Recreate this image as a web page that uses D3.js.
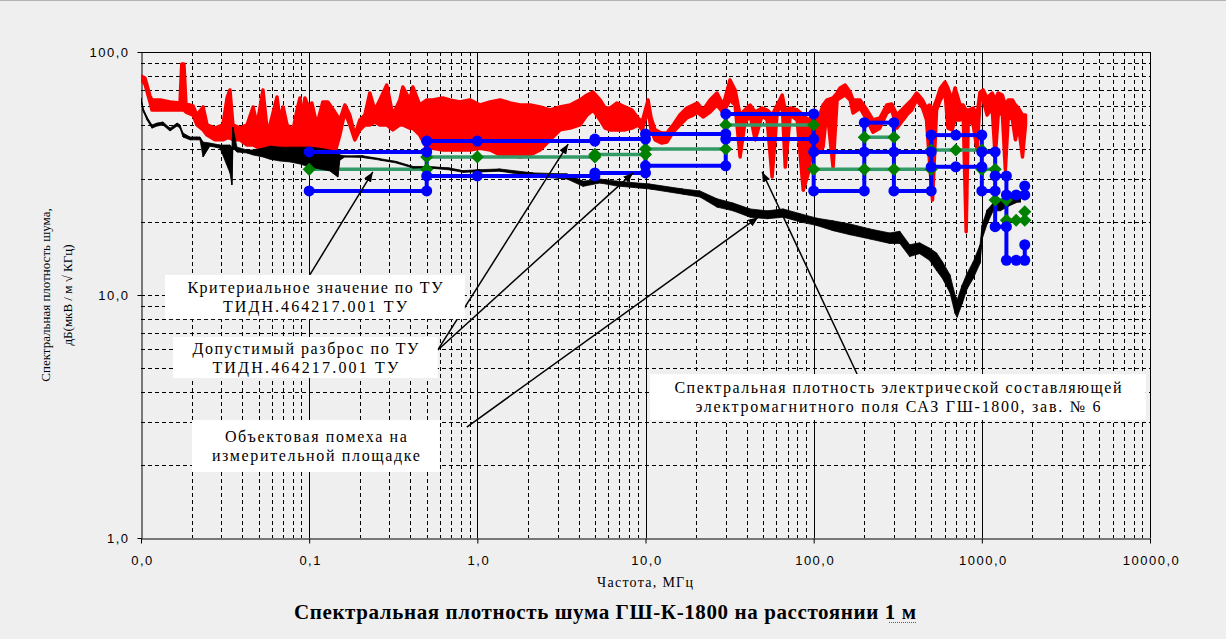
<!DOCTYPE html>
<html><head><meta charset="utf-8">
<script src="https://cdn.jsdelivr.net/npm/d3@7"></script>
<style>
html,body{margin:0;padding:0;background:#efefef;}
svg{display:block;}
</style></head><body>
<svg id="chart" width="1226" height="639"></svg>
<script>
// ---------- DATA ----------
const xTickValues = [0.01, 0.1, 1, 10, 100, 1000, 10000];
const xTickLabels = ["0,0", "0,1", "1,0", "10,0", "100,0", "1000,0", "10000,0"];
const yTickValues = [1, 10, 100];
const yTickLabels = ["1,0", "10,0", "100,0"];

// Red: spectral density of the SAZ GSh-1800 (envelope of the dense trace)
const redFreq = [0.0100,0.01056,0.01131,0.01162,0.01297,0.01487,0.01706,0.01747,0.0180,0.0185,
 0.0204,0.0215,0.0234,0.0247,0.0275,0.0307,0.0325,0.0338,0.0352,0.0388,
 0.0427,0.0464,0.0490,0.0531,0.0561,0.0585,0.0644,0.0670,0.0700,0.0738,
 0.0802,0.0847,0.0882,0.0921,0.0943,0.1009,0.1037,0.1110,0.1206,0.1292,
 0.1421,0.1522,0.1630,0.1745,0.1869,0.2001,0.2143,0.2295,0.2458,0.2631,
 0.2893,0.3144,0.3460,0.3607,0.3967,0.4135,0.4549,0.5007,0.5437,0.6235,
 0.686,0.787,0.902,1.039,1.191,1.366,1.566,1.796,2.06,2.36,
 2.71,3.10,3.56,4.08,4.49,4.88,5.37,5.75,6.16,6.77,
 7.55,8.31,9.02,9.55,10.36,10.8,11.4,12.5,13.4,14.6,
 16.0,17.6,19.2,20.3,22.0,24.2,26.6,29.0,31.8,34.1,
 36.5,39.0,41.9,44.9,49.4,52.9,56.6,60.7,65.0,67.8,
 72.6,79.8,86.7,93.0,99.6,106.2,113.7,120.1,130.4,137.8,
 143.6,153.8,164.7,171.5,188.8,207.6,225.2,247.5,272.1,291.4,
 312.1,357.4,383,409.3,444.2,469,488,509,538,567,
 604,629,665,693,743,775,807,830,889,937,
 976,1018,1075,1152,1201,1251,1323,1380,1438,1520,
 1584,1651,1745,1818];
const redHigh = [79.7,78.2,65.9,63.5,63.5,62.3,61.7,89.2,89.2,61.1,
 60.0,55.0,59.4,50.1,48.6,50.1,64.7,69.8,50.1,48.6,
 50.1,59.4,50.1,69.8,48.6,50.1,65.3,52.5,59.4,50.1,
 47.8,57.7,64.7,52.5,64.7,57.7,61.7,50.1,62.3,62.3,
 56.6,52.5,60.5,55.0,45.5,52.5,55.0,67.8,57.7,63.5,
 73.1,55.0,63.5,71.8,63.5,71.8,60.5,63.5,63.5,64.7,
 63.5,62.3,63.5,60.5,62.3,63.5,61.7,60.5,60.5,59.4,
 57.7,59.4,60.5,63.5,66.5,68.4,63.5,58.8,58.8,61.7,
 59.4,57.7,53.5,51.5,63.5,53.5,47.8,46.4,46.4,50.1,
 55.0,58.8,60.5,61.7,57.7,63.5,67.8,60.5,76.7,69.8,
 55.0,57.7,60.5,56.6,58.8,57.7,55.0,60.5,66.5,57.7,
 58.8,57.7,55.0,52.5,55.0,52.5,60.5,63.5,64.7,67.8,
 71.1,73.1,68.4,63.5,63.5,57.7,52.5,53.5,60.5,61.1,
 55.0,60.5,63.5,67.8,63.5,58.8,60.5,57.7,63.5,71.1,
 75.2,71.1,63.5,71.1,60.5,60.5,57.7,57.7,58.8,55.0,
 68.4,69.8,64.7,67.8,63.5,67.8,66.5,60.5,63.5,63.5,
 60.5,58.8,55.0,55.0];
const redLow = [76.7,73.8,62.3,57.7,57.7,57.7,57.7,57.7,57.7,56.6,
 55.0,50.1,47.8,45.5,43.5,43.5,44.3,44.3,43.5,43.5,
 41.4,41.4,40.6,40.2,39.5,39.5,39.5,38.8,38.8,37.7,
 37.7,37.7,37.7,37.7,37.7,37.7,37.7,37.0,37.7,37.7,
 38.4,45.5,56.6,50.1,43.5,47.8,50.1,50.1,51.5,50.1,
 50.1,47.8,50.1,50.1,48.6,48.6,45.5,40.2,40.2,39.5,
 39.5,39.5,39.5,40.2,39.5,37.7,37.7,37.0,37.7,39.5,
 43.5,47.8,48.6,50.1,55.0,57.7,52.5,48.6,47.8,47.8,
 47.8,48.6,50.1,47.8,57.7,47.8,43.5,42.2,42.6,46.8,
 50.1,53.5,55.0,56.6,54.0,56.6,60.5,56.1,63.5,60.5,
 37.0,51.0,55.0,43.5,55.0,52.5,30.6,56.6,60.5,33.6,
 55.0,52.5,27.0,31.8,43.5,38.4,40.6,57.7,33.6,63.5,
 64.7,66.5,63.5,56.1,58.8,52.5,46.8,48.6,56.1,57.7,
 48.6,55.0,57.7,63.5,58.8,52.5,35.9,24.6,57.7,63.5,
 68.4,48.6,47.8,52.5,52.5,55.0,18.2,52.5,50.1,39.5,
 63.5,63.5,55.0,58.8,37.0,55.0,56.6,32.7,55.0,52.5,
 43.5,50.1,37.0,50.1];

// Black: interference on the measurement site
const blackFreq = [0.0100,0.01028,0.01086,0.01162,0.01245,0.01352,0.01487,0.0164,0.01706,0.01777,
 0.01956,0.0215,0.02243,0.0234,0.0257,0.0295,0.0338,0.0347,0.0352,0.0372,
 0.0427,0.0464,0.0531,0.0585,0.0670,0.0769,0.0882,0.1009,0.1157,0.1327,
 0.1480,0.1522,0.1630,0.2085,0.2631,0.3319,0.4135,0.5216,0.686,0.820,
 1.039,1.366,2.146,3.42,4.25,5.37,6.77,10.65,16.7,21.1,
 26.6,33.2,41.9,52.9,65.9,83.2,104.8,130.4,164.7,216.2,
 283.5,325.1,372.3,426.5,488,538,583,647,693,713,
 764,818,889,976,1004,1075,1168,1287,1479,1628,1697];
const blackHigh = [64.7,58.8,54.0,50.1,51.0,51.5,48.6,51.0,50.1,46.4,
 44.7,44.7,44.7,42.6,42.2,41.4,41.4,40.6,49.1,40.6,
 39.5,39.5,40.2,41.0,40.6,40.6,40.6,40.6,40.2,39.5,
 39.0,37.7,37.4,37.4,36.4,35.4,33.8,33.8,33.3,32.5,
 32.8,33.0,31.8,31.5,29.4,30.0,29.4,28.6,27.3,26.8,
 24.9,23.9,22.6,22.2,22.6,21.6,20.7,20.2,19.6,18.7,
 18.0,18.3,16.1,16.4,15.6,14.9,13.7,12.1,10.0,9.54,
 11.0,12.3,13.7,16.1,19.4,22.4,23.9,24.6,25.3,25.8,25.3];
const blackLow = [63.5,57.2,52.5,48.6,49.6,50.1,47.3,49.6,48.6,44.7,
 43.5,43.5,43.5,37.0,41.0,40.2,31.8,28.4,40.2,38.8,
 38.4,37.7,37.0,36.2,35.6,35.3,34.6,33.6,33.0,32.4,
 30.6,35.9,37.0,36.8,35.9,34.9,33.3,33.3,32.7,32.0,
 32.1,32.3,30.8,30.0,28.0,28.9,28.1,27.3,26.0,25.3,
 23.0,22.2,20.9,20.6,20.9,20.0,19.3,18.4,17.7,17.0,
 16.3,16.3,14.4,14.8,13.9,12.6,11.7,10.2,8.4,8.1,
 9.2,10.6,11.7,13.5,17.0,19.6,22.2,22.2,23.4,24.1,24.1];

// Tolerance limits per TU (blue) : [fStart, fEnd, level]
const toleranceSegments = [
 [0.1,0.5,38.8],[0.5,1,43.0],[1,5,43.0],[5,10,43.8],[10,30,46.0],[30,100,55.6],
 [100,200,38.8],[200,300,38.8],[300,500,38.8],[200,300,51.2],[500,700,45.5],[700,1000,45.5],
 [1000,1200,38.8],[1200,1400,30.9],[1400,1600,25.8],[1600,1800,25.8],
 [0.1,0.5,26.8],[0.5,1,30.9],[1,5,30.9],[5,10,31.8],[10,30,34.0],[30,100,43.8],
 [100,200,26.8],[300,500,26.8],[500,700,33.7],[700,1000,33.7],[1000,1200,26.8],
 [1200,1400,19.1],[1400,1600,13.9],[1600,1800,13.9]
];
// vertical connectors of the tolerance lines : [freq, levelTop, levelBottom]
const toleranceConnectors = [
 [0.5,43.0,26.8],[10,46.0,31.8],[30,55.6,34.0],[100,55.6,26.8],[200,51.2,26.8],[300,51.2,26.8],
 [500,45.5,26.8],[1000,45.5,26.8],[1200,38.8,19.1],[1400,30.9,13.9],[1800,28.1,25.8],[1800,16.1,13.9]
];
// Criterion value per TU (green) : [fStart, fEnd, level]
const criterionSegments = [
 [0.1,0.5,32.9],[0.5,1,37.0],[1,5,37.0],[5,10,37.9],[10,30,39.9],[30,100,50.1],
 [100,200,32.9],[200,300,32.9],[300,500,32.9],[200,300,44.6],[500,700,39.5],[700,1000,39.5],
 [1000,1200,32.9],[1200,1400,24.6],[1400,1600,20.3],[1600,1800,20.3]
];
const criterionConnectors = [[1800,22.0,20.3]];

// Annotations (anchored in data units: frequency, level)
const annotationTexts = [
 ["Критериальное значение по ТУ", "ТИДН.464217.001 ТУ"],
 ["Допустимый разброс по ТУ", "ТИДН.464217.001 ТУ"],
 ["Объектовая помеха на", "измерительной площадке"],
 ["Спектральная плотность электрической составляющей", "электромагнитного поля САЗ ГШ-1800, зав. № 6"]
];
const annotationBoxes = [ // [fLeft, fRight, levelTop, levelBottom]
 [0.0139, 0.843, 12.1, 7.96],
 [0.0155, 0.582, 6.72, 4.55],
 [0.0201, 0.598, 3.06, 1.87],
 [10.65, 9440, 4.73, 3.06]
];
const annotationArrows = [ // [fFrom, levelFrom, fTo, levelTo]
 [0.1009, 12.1, 0.239, 32.1],
 [0.582, 5.94, 3.47, 41.8],
 [0.582, 5.94, 8.43, 31.8],
 [0.866, 2.86, 46.8, 20.9],
 [181.2, 4.73, 49.4, 32.1]
];
const chartTitle = "Спектральная плотность шума ГШ-К-1800 на расстоянии 1 м";
const xTitle = "Частота, МГц";
const yTitleLines = ["Спектральная плотность шума,", "дБ(мкВ / м √ КГц)"];

// ---------- LAYOUT / STYLE ----------
const W = 1226, H = 639;
const L = 141, R = 1150, T = 52, B = 538;
const serif = "'Liberation Serif','Times New Roman',serif";
const sans = "'Liberation Sans',Arial,sans-serif";
const textWidths = [[255,184],[226,186],[182,208],[447,405]];

const x = d3.scaleLog().domain([0.01, 10000]).range([L, R]);
const y = d3.scaleLog().domain([1, 100]).range([B, T]);
const svg = d3.select("#chart");

svg.append("rect").attr("width", W).attr("height", H).attr("fill", "#efefef");
svg.append("line").attr("x1", 0).attr("x2", W).attr("y1", 0.5).attr("y2", 0.5).attr("stroke", "#b4b4b4");

const defs = svg.append("defs");
defs.append("clipPath").attr("id", "plotclip").append("rect")
  .attr("x", L).attr("y", T).attr("width", R - L).attr("height", B - T);
defs.append("marker").attr("id", "arrowhead").attr("viewBox", "0 0 10 8")
  .attr("refX", 10).attr("refY", 4).attr("markerWidth", 10).attr("markerHeight", 8)
  .attr("markerUnits", "userSpaceOnUse").attr("orient", "auto")
  .append("path").attr("d", "M0,0 L10,4 L0,8 Z").attr("fill", "#000");

// ---------- GRID ----------
const px = v => Math.round(x(v)) + 0.5;
const py = v => Math.round(y(v)) + 0.5;
const decades = [0.01, 0.1, 1, 10, 100, 1000];
const xMinor = decades.flatMap(d => d3.range(2, 10).map(k => d * k));
const yMinor = [1, 10].flatMap(d => d3.range(2, 10).map(k => d * k)).concat([10]);
const grid = svg.append("g");
grid.selectAll(".vminor").data(xMinor).join("line")
  .attr("x1", px).attr("x2", px).attr("y1", T).attr("y2", B)
  .attr("stroke", "#000").attr("stroke-width", 1).attr("stroke-dasharray", "4,3");
grid.selectAll(".hminor").data(yMinor).join("line")
  .attr("y1", py).attr("y2", py).attr("x1", L).attr("x2", R)
  .attr("stroke", "#000").attr("stroke-width", 1).attr("stroke-dasharray", "4,3");
grid.selectAll(".vmajor").data(xTickValues.slice(1)).join("line")
  .attr("x1", px).attr("x2", px).attr("y1", T).attr("y2", B)
  .attr("stroke", "#000").attr("stroke-width", 1);
grid.append("line").attr("x1", L).attr("x2", R).attr("y1", py(100)).attr("y2", py(100))
  .attr("stroke", "#000").attr("stroke-width", 1);

// ---------- AXES ----------
const xAxis = svg.append("g").attr("transform", `translate(0,${py(1)})`)
  .call(d3.axisBottom(x).tickValues(xTickValues).tickFormat((d, i) => xTickLabels[i])
    .tickSize(5).tickPadding(12).tickSizeOuter(0));
const yAxis = svg.append("g").attr("transform", `translate(${px(0.01)},0)`)
  .call(d3.axisLeft(y).tickValues(yTickValues).tickFormat((d, i) => yTickLabels[i])
    .tickSize(4).tickPadding(8).tickSizeOuter(0));
[xAxis, yAxis].forEach(a => {
  a.select(".domain").attr("stroke", "#000");
  a.selectAll(".tick line").attr("stroke", "#000");
  a.selectAll(".tick text").attr("font-family", sans).attr("font-size", 13)
    .attr("fill", "#000").attr("letter-spacing", "1.5px");
});
xAxis.selectAll(".tick text").attr("dx", "1px");

// ---------- SERIES ----------
const plot = svg.append("g").attr("clip-path", "url(#plotclip)");
const band = d3.area().x(d => x(d.f)).y0(d => y(d.lo)).y1(d => y(d.hi));
const redData = redFreq.map((f, i) => ({ f, hi: redHigh[i], lo: redLow[i] }));
const blackData = blackFreq.map((f, i) => ({ f, hi: blackHigh[i], lo: blackLow[i] }));

plot.append("path").datum(redData).attr("d", band)
  .attr("fill", "#ff0000").attr("stroke", "#ff0000").attr("stroke-width", 3.5)
  .attr("stroke-linejoin", "round");

const greenLine = "#339966", greenMark = "#008000", blue = "#0000ff";
plot.selectAll(".crit").data(criterionSegments).join("line")
  .attr("x1", d => x(d[0])).attr("x2", d => x(d[1]))
  .attr("y1", d => y(d[2])).attr("y2", d => y(d[2]))
  .attr("stroke", greenLine).attr("stroke-width", 3.5);
plot.selectAll(".critc").data(criterionConnectors).join("line")
  .attr("x1", d => x(d[0])).attr("x2", d => x(d[0]))
  .attr("y1", d => y(d[1])).attr("y2", d => y(d[2]))
  .attr("stroke", greenLine).attr("stroke-width", 3.5);

// black: filled envelope plus a jagged trace joining the high/low readings
plot.append("path").datum(blackData).attr("d", band)
  .attr("fill", "#000").attr("stroke", "#000").attr("stroke-width", 0.8)
  .attr("stroke-linejoin", "round");
const jag = d3.line().x(d => x(d[0])).y(d => y(d[1]));
plot.append("path").datum(blackData.flatMap(d => [[d.f, d.hi], [d.f, d.lo]])).attr("d", jag)
  .attr("fill", "none").attr("stroke", "#000").attr("stroke-width", 1);

plot.selectAll(".tol").data(toleranceSegments).join("line")
  .attr("x1", d => x(d[0])).attr("x2", d => x(d[1]))
  .attr("y1", d => y(d[2])).attr("y2", d => y(d[2]))
  .attr("stroke", blue).attr("stroke-width", 4);
plot.selectAll(".tolc").data(toleranceConnectors).join("line")
  .attr("x1", d => x(d[0])).attr("x2", d => x(d[0]))
  .attr("y1", d => y(d[1])).attr("y2", d => y(d[2]))
  .attr("stroke", blue).attr("stroke-width", 4);

// markers at ends of segments
const ends = (segs, conns) => {
  const pts = segs.flatMap(s => [[s[0], s[2]], [s[1], s[2]]])
    .concat(conns.flatMap(c => [[c[0], c[1]], [c[0], c[2]]]));
  const seen = new Set();
  return pts.filter(p => { const k = p.join("|"); if (seen.has(k)) return false; seen.add(k); return true; });
};
const diamond = d3.symbol().type(d3.symbolDiamond2).size(110);
plot.selectAll(".dm").data(ends(criterionSegments, criterionConnectors)).join("path")
  .attr("d", diamond).attr("transform", d => `translate(${x(d[0])},${y(d[1])})`)
  .attr("fill", greenMark);
plot.selectAll(".cm").data(ends(toleranceSegments, toleranceConnectors)).join("circle")
  .attr("cx", d => x(d[0])).attr("cy", d => y(d[1])).attr("r", 5.5).attr("fill", blue);

// ---------- ANNOTATIONS ----------
svg.selectAll(".arr").data(annotationArrows).join("line")
  .attr("x1", d => x(d[0])).attr("y1", d => y(d[1]))
  .attr("x2", d => x(d[2])).attr("y2", d => y(d[3]))
  .attr("stroke", "#000").attr("stroke-width", 1.5).attr("marker-end", "url(#arrowhead)");

annotationBoxes.forEach((b, i) => {
  const x0 = x(b[0]), x1 = x(b[1]), y0 = y(b[2]), y1 = y(b[3]);
  svg.append("rect").attr("x", x0).attr("y", y0).attr("width", x1 - x0).attr("height", y1 - y0)
    .attr("fill", "#ffffff");
  const cx = (x0 + x1) / 2, cy = (y0 + y1) / 2;
  annotationTexts[i].forEach((t, j) => {
    svg.append("text").attr("x", cx).attr("y", cy - 4 + j * 19.5)
      .attr("text-anchor", "middle").attr("font-family", serif).attr("font-size", 16)
      .attr("textLength", textWidths[i][j]).attr("lengthAdjust", "spacing")
      .attr("fill", "#000").text(t);
  });
});

// ---------- TITLES ----------
svg.append("text").attr("x", 645).attr("y", 587).attr("text-anchor", "middle")
  .attr("font-family", serif).attr("font-size", 14).attr("textLength", 96)
  .attr("lengthAdjust", "spacing").attr("fill", "#000").text(xTitle);
yTitleLines.forEach((t, j) => {
  svg.append("text").attr("transform", `translate(${50 + j * 22},295) rotate(-90)`)
    .attr("text-anchor", "middle").attr("font-family", serif).attr("font-size", 13)
    .attr("fill", "#000").text(t);
});
svg.append("text").attr("x", 605).attr("y", 619).attr("text-anchor", "middle")
  .attr("font-family", serif).attr("font-size", 21).attr("font-weight", "bold")
  .attr("textLength", 622).attr("lengthAdjust", "spacing")
  .attr("fill", "#000").text(chartTitle);
// spell-check style dotted underline under the last word
svg.append("line").attr("x1", 889).attr("x2", 916).attr("y1", 622.5).attr("y2", 622.5)
  .attr("stroke", "#e000e0").attr("stroke-width", 1).attr("stroke-dasharray", "1,1");
</script>
</body></html>
